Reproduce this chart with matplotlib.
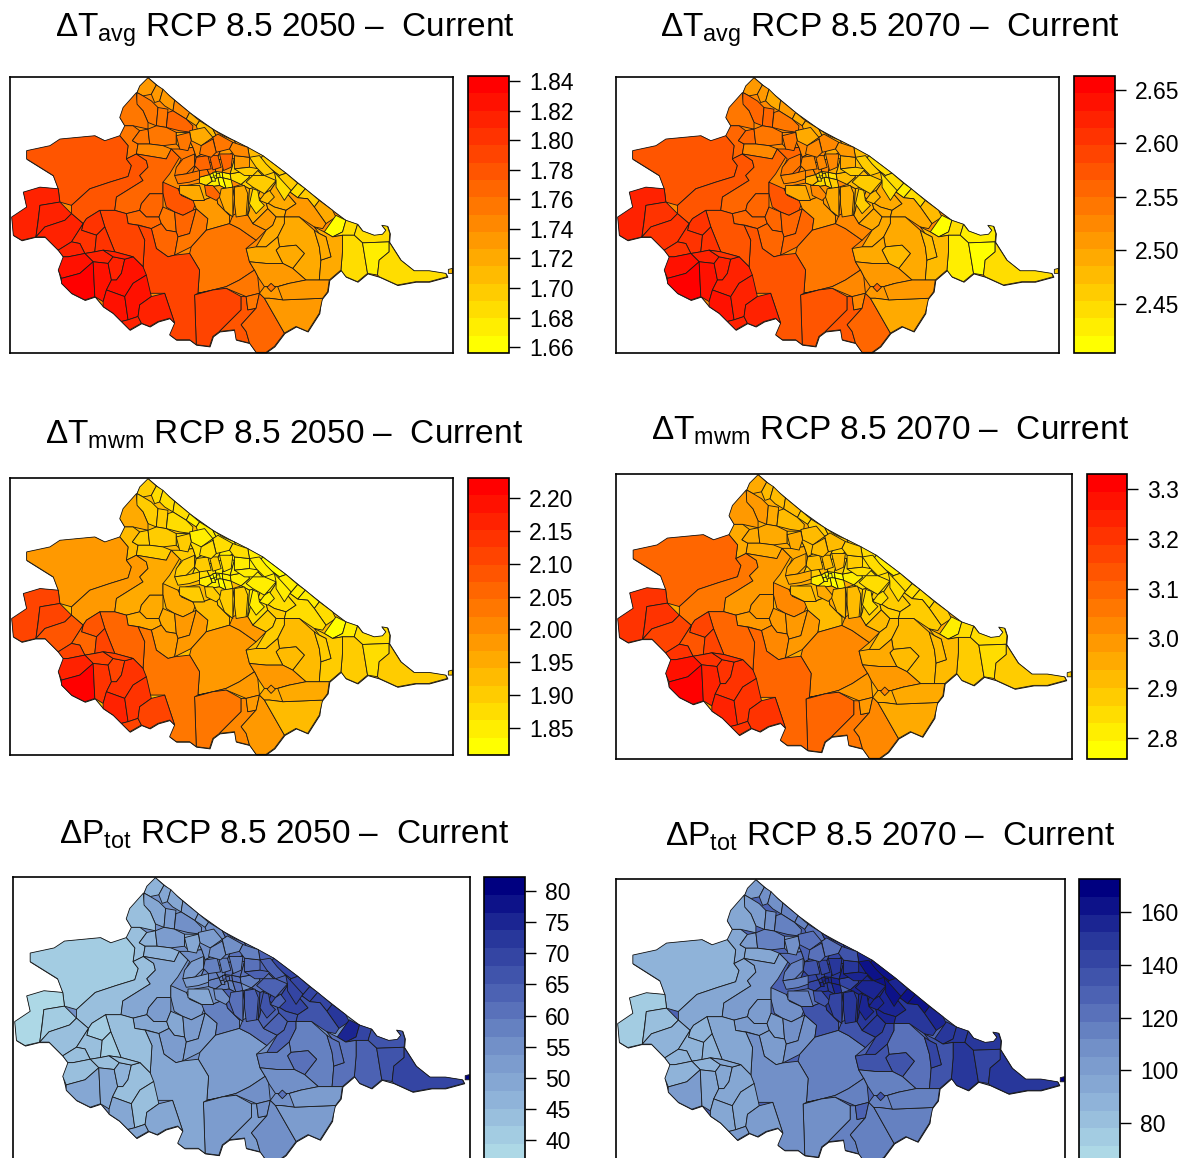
import matplotlib
matplotlib.use("Agg")
from matplotlib import pyplot as plt
from matplotlib.collections import PolyCollection
from matplotlib.colors import BoundaryNorm, LinearSegmentedColormap, ListedColormap
from matplotlib.cm import ScalarMappable
import numpy as np

plt.rcParams['font.family'] = ['Liberation Sans', 'DejaVu Sans']
plt.rcParams['mathtext.fontset'] = 'custom'
plt.rcParams['mathtext.rm'] = 'Liberation Sans'
plt.rcParams['mathtext.default'] = 'regular'

# Province outline, map coordinates
outline = [(445,50),(510,105),(570,155),(640,205),(705,240),(790,285),(860,338),(930,395),(1000,450),(1040,480),
           (1075,492),(1090,512),(1125,525),(1150,522),(1160,510),(1148,495),(1165,498),(1172,520),(1170,545),
           (1205,600),(1245,632),(1290,632),(1340,640),(1345,650),(1290,665),(1250,665),(1195,675),(1140,650),
           (1105,640),(1075,665),(1040,650),(1025,630),(990,660),(985,695),(965,720),(960,760),(925,815),(890,800),
           (855,820),(825,860),(800,878),(770,878),(750,850),(710,840),(705,810),(660,815),(640,830),(630,860),
           (590,855),(570,840),(530,840),(510,825),(525,790),(510,775),(475,785),(450,800),(425,790),(390,810),
           (340,760),(310,740),(285,710),(255,720),(215,700),(185,670),(175,630),(190,590),(175,570),(135,530),
           (105,530),(65,540),(40,525),(35,470),(80,440),(70,395),(120,380),(175,385),(160,345),(120,320),(80,295),
           (80,270),(150,255),(180,235),(285,225),(315,240),(360,225),(375,195),(360,170),(370,140),(410,95),(420,75)]

# Municipalities, grouped; the value lists below follow the same order
north = [
    [(445,50),(470,72),(455,100),(430,105),(412,95),(420,75)],
    [(470,72),(490,85),(480,120),(465,125),(455,100)],
    [(490,85),(510,105),(525,118),(520,150),(495,135),(480,120)],
    [(525,118),(570,155),(560,175),(520,150)],
    [(570,155),(600,180),(590,195),(560,175)],
    [(412,95),(430,105),(455,120),(475,140),(470,195),(445,185),(430,150),(410,130)],
    [(410,95),(412,130),(430,150),(445,185),(445,205),(400,195),(375,195),(360,170),(370,140)],
    [(475,140),(505,145),(500,200),(470,195)],
    [(505,155),(520,150),(560,175),(580,195),(578,215),(540,210),(500,200)],
    [(375,195),(400,195),(420,210),(398,240),(415,250),(410,280),(380,295),(385,255),(360,225)],
    [(420,210),(445,205),(450,250),(415,250),(398,240)],
    [(445,205),(470,195),(500,200),(530,215),(530,250),(490,255),(450,250)],
    [(415,250),(450,250),(490,255),(515,265),(500,295),(410,280)],
    [(530,215),(578,215),(570,240),(580,260),(545,265),(530,250)],
    [(590,195),(600,180),(640,205),(650,225),(620,240),(600,230),(595,210)],
]
west_large = [
    [(80,270),(150,255),(180,235),(285,225),(315,240),(360,225),(385,255),(380,295),(395,315),(385,348),(330,365),
     (270,385),(215,435),(180,425),(175,385),(160,345),(120,320),(80,295)],
    [(385,348),(395,315),(380,295),(410,280),(440,300),(445,320),(420,345),(430,360),(350,410),(345,450),(300,450),
     (260,475),(250,490),(215,460),(215,435),(270,385),(330,365)],
    [(410,280),(500,295),(515,265),(540,290),(510,340),(490,365),(490,400),(450,400),(425,430),(420,450),(380,460),
     (345,450),(350,410),(430,360),(420,345),(445,320),(440,300)],
]
west_edge = [
    [(35,470),(80,440),(70,395),(120,380),(175,385),(180,425),(120,435),(108,530),(65,540),(40,525)],
    [(120,435),(180,425),(215,460),(195,480),(135,500),(108,530),(115,480)],
    [(135,500),(195,480),(215,460),(250,490),(215,545),(175,570),(135,530),(108,530)],
]
centre = [
    [(630,342),(648,333),(655,350),(638,362)],
    [(648,333),(668,335),(670,352),(655,350)],
    [(668,335),(692,340),(695,358),(670,352)],
    [(655,350),(670,352),(680,385),(660,375)],
    [(670,352),(695,358),(700,380),(680,385)],
    [(600,350),(630,342),(638,362),(620,375),(600,368)],
    [(692,340),(745,330),(750,350),(725,372),(695,358)],
    [(638,362),(655,350),(660,375),(640,378),(620,375)],
]
centre_mid = [
    [(600,350),(630,342),(615,310),(585,320),(575,345)],
    [(630,342),(648,333),(650,300),(615,310)],
    [(648,333),(668,335),(680,290),(650,300)],
    [(668,335),(692,340),(705,295),(680,290)],
    [(692,340),(745,330),(735,290),(705,295)],
]
centre_outer = [
    [(515,265),(545,265),(580,260),(590,290),(585,320),(575,345),(550,335),(530,325),(545,295)],
    [(580,260),(570,240),(578,215),(595,210),(600,230),(620,240),(625,270),(590,290)],
    [(620,240),(650,225),(665,265),(650,300),(615,310),(590,290),(625,270)],
    [(650,225),(640,205),(670,225),(705,240),(715,265),(680,290),(650,300),(665,265)],
    [(705,240),(745,260),(750,290),(735,290),(705,295),(680,290),(715,265)],
    [(745,260),(790,285),(780,300),(770,325),(745,330),(735,290),(750,290)],
    [(790,285),(860,338),(840,345),(780,300)],
    [(780,300),(840,345),(830,365),(790,345),(770,325)],
    [(745,330),(770,325),(790,345),(785,375),(750,385),(725,372),(750,350)],
    [(790,345),(830,365),(810,395),(785,385),(785,375)],
]
coast = [
    [(840,345),(860,338),(895,368),(872,395),(830,365)],
    [(895,368),(918,385),(895,412),(872,395)],
    [(918,385),(960,420),(945,440),(925,415),(895,412)],
    [(960,420),(1000,450),(1010,470),(980,490),(945,440)],
    [(1010,465),(1040,480),(1030,515),(1000,530),(975,515)],
    [(1040,480),(1075,492),(1065,525),(1030,525),(1000,530),(1030,515)],
    [(1075,492),(1090,512),(1125,525),(1150,522),(1160,510),(1148,495),(1165,498),(1172,520),(1170,545),(1090,548),(1065,525)],
    [(1030,525),(1065,525),(1090,548),(1105,640),(1075,665),(1040,650),(1025,630),(1030,570)],
    [(1090,548),(1170,545),(1170,575),(1140,600),(1135,645),(1105,640)],
    [(1170,545),(1205,600),(1245,632),(1290,632),(1340,640),(1345,650),(1290,665),(1250,665),(1195,675),(1140,650),(1135,645),(1140,600),(1170,575)],
    [(1348,628),(1360,625),(1360,640),(1348,640)],
]
south_centre = [
    [(535,385),(560,375),(600,368),(620,375),(640,378),(650,405),(610,420),(580,420),(545,405)],
    [(490,365),(535,385),(545,405),(590,425),(580,450),(550,465),(525,455),(500,440),(490,400)],
    [(425,430),(450,400),(490,400),(490,440),(478,470),(440,470),(420,450)],
    [(380,460),(420,450),(440,470),(478,470),(485,490),(455,505),(420,495),(385,490)],
    [(478,470),(490,440),(525,455),(530,515),(500,510),(485,490)],
    [(525,455),(550,465),(580,450),(590,445),(570,520),(535,530),(530,515)],
    [(455,505),(485,490),(500,510),(530,515),(535,530),(525,585),(505,590),(470,565)],
    [(535,530),(570,520),(590,445),(625,475),(620,510),(575,560),(525,585)],
    [(580,420),(610,420),(650,405),(655,430),(690,465),(690,490),(620,510),(625,475),(590,445)],
]
middle = [
    [(620,510),(690,490),(720,505),(770,540),(740,565),(750,605),(765,630),(720,660),(680,680),(640,690),(595,700),
     (600,630),(570,580),(575,560)],
    [(640,378),(660,375),(680,385),(700,380),(705,410),(700,465),(690,465),(655,430),(650,405)],
    [(700,380),(725,372),(750,385),(745,465),(710,460),(705,410)],
    [(750,385),(785,375),(785,385),(775,410),(755,420),(750,450),(745,465)],
    [(785,385),(810,395),(830,365),(860,395),(890,430),(860,450),(825,440),(800,425),(775,410)],
    [(755,420),(775,410),(800,425),(805,445),(760,490),(745,465),(750,450)],
    [(825,440),(860,450),(855,470),(830,470),(805,445),(800,425)],
    [(860,395),(872,395),(895,412),(925,415),(945,440),(980,490),(970,505),(945,500),(900,470),(855,470),(860,450),(890,430)],
    [(700,465),(710,460),(745,465),(760,490),(800,510),(770,540),(720,505),(690,490)],
    [(760,490),(805,445),(830,470),(820,495),(800,510)],
    [(830,470),(855,470),(855,490),(835,530),(800,560),(770,560),(800,510),(820,495)],
]
east_inland = [
    [(855,470),(900,470),(945,510),(960,560),(965,600),(960,660),(920,660),(880,625),(915,580),(890,555),(840,560),(835,530),(855,490)],
    [(840,560),(890,555),(915,580),(880,625),(850,610),(830,570)],
    [(740,565),(770,560),(800,560),(835,530),(840,560),(830,570),(850,610),(800,610),(750,605)],
    [(945,500),(975,515),(1000,530),(1030,525),(1030,570),(1025,630),(990,660),(960,660),(965,600),(995,590),(980,530),(960,520)],
    [(945,510),(960,520),(980,530),(995,590),(965,600),(960,560)],
    [(750,605),(800,610),(850,610),(880,625),(920,660),(870,670),(835,680),(795,680),(775,650),(765,630)],
]
south_large = [
    [(595,700),(640,690),(680,680),(720,660),(765,630),(775,650),(780,700),(740,710),(680,685)],
    [(585,705),(640,690),(680,685),(725,710),(725,750),(690,785),(660,815),(640,830),(630,860),(590,855)],
    [(415,495),(455,505),(470,565),(505,590),(525,585),(570,580),(600,630),(595,700),(585,705),(590,855),(570,840),
     (530,840),(510,825),(525,790),(495,700),(450,700),(430,620),(435,540)],
    [(345,450),(380,460),(385,490),(415,495),(435,540),(430,620),(400,590),(345,575),(315,500),(300,450)],
]
red_cluster = [
    [(250,490),(260,475),(300,450),(315,500),(290,525),(245,510)],
    [(215,545),(250,490),(245,510),(290,525),(285,575),(255,580),(240,550)],
    [(175,570),(215,545),(240,550),(255,580),(205,590),(190,590)],
    [(290,525),(315,500),(345,575),(310,570),(285,575)],
    [(255,580),(285,575),(310,570),(340,590),(325,610),(280,605)],
    [(190,590),(205,590),(255,580),(280,605),(240,640),(185,655),(175,630)],
    [(185,655),(240,640),(280,605),(285,710),(255,720),(215,700),(185,670)],
    [(280,605),(325,610),(335,660),(320,690),(310,725),(285,710)],
    [(325,610),(340,590),(375,597),(365,640),(350,660),(335,660)],
    [(375,597),(400,590),(430,620),(440,645),(400,670),(375,710),(320,690),(335,660),(350,660),(365,640)],
    [(320,690),(375,710),(385,780),(365,785),(340,760),(310,740),(310,725)],
    [(375,710),(400,670),(440,645),(455,710),(420,735),(415,770),(385,780)],
    [(385,780),(415,770),(425,790),(390,810),(365,785)],
    [(420,735),(455,710),(495,700),(525,790),(510,775),(475,785),(450,800),(425,790),(415,770)],
]
south_tip = [
    [(725,710),(740,710),(745,750),(770,745),(725,795),(740,815),(750,850),(710,840),(705,810),(660,815),(690,785),(725,750)],
    [(740,710),(780,700),(770,745),(745,750)],
    [(725,795),(770,745),(780,700),(795,715),(855,820),(825,860),(800,878),(770,878),(750,850),(740,815)],
    [(780,700),(795,680),(835,680),(870,670),(850,720),(810,715),(795,715)],
    [(795,715),(810,715),(850,720),(970,715),(960,760),(925,815),(890,800),(855,820)],
    [(835,680),(870,670),(920,660),(960,660),(990,660),(985,695),(970,715),(850,720)],
    [(803,682),(815,670),(828,682),(815,695)],
]
# Finer cells of the fan round the city, drawn over the groups above
fan_detail = [
    [(310,570),(345,575),(400,590),(375,597),(340,590)],
    [(590,290),(625,285),(635,325),(600,330),(585,315)],
    [(630,285),(655,285),(665,320),(640,328)],
    [(660,280),(700,280),(695,320),(672,330)],
    [(705,285),(750,290),(750,320),(705,325)],
    [(705,325),(750,320),(780,325),(760,345),(735,345)],
    [(750,290),(780,285),(800,310),(825,335),(795,345),(770,320)],
    [(795,345),(830,360),(795,400),(760,380),(740,365),(760,345)],
    [(825,335),(875,390),(855,420),(830,380),(830,360)],
    [(795,400),(810,390),(825,410),(805,430),(780,420)],
    [(760,385),(775,390),(780,420),(795,435),(770,460),(750,430)],
    [(550,295),(585,280),(585,315),(560,340),(525,345),(530,320)],
    [(525,345),(560,340),(600,330),(600,355),(570,365),(535,370)],
    [(570,210),(615,200),(640,230),(605,255),(575,240)],
    [(530,225),(570,215),(575,240),(565,270),(540,265)],
    [(640,230),(655,220),(700,245),(690,265),(650,275)],
    [(605,255),(640,235),(650,275),(635,290),(600,280)],
    [(700,245),(745,260),(750,290),(705,285),(690,265)],
    [(540,375),(600,375),(615,420),(580,420),(540,400)],
    [(615,375),(640,375),(665,405),(650,420),(620,405)],
    [(665,385),(700,380),(700,420),(700,470),(675,450),(660,410)],
    [(705,380),(735,375),(745,400),(740,465),(710,470),(705,430)],
    [(640,335),(650,335),(652,345),(642,347)],
    [(650,340),(660,338),(662,350),(652,352)],
    [(635,350),(645,350),(648,362),(638,362)],
]
regions = (north + west_large + west_edge + centre + centre_mid + centre_outer + coast + south_centre
           + middle + east_inland + south_large + red_cluster + south_tip + fan_detail)

# Values per municipality, one line per group above
tavg_2050 = [1.73,1.73,1.73,1.74,1.72,1.76,1.75,1.76,1.77,1.75,1.75,1.75,1.74,1.72,1.71,
             1.775,1.775,1.765,
             1.815,1.81,1.81,
             1.66,1.66,1.67,1.66,1.67,1.68,1.68,1.67,
             1.75,1.76,1.74,1.73,1.70,
             1.75,1.74,1.75,1.73,1.73,1.71,1.695,1.70,1.70,1.71,
             1.695,1.685,1.70,1.72,1.66,1.685,1.68,1.685,1.675,1.69,1.71,
             1.72,1.775,1.77,1.765,1.76,1.77,1.765,1.76,1.73,
             1.755,1.73,1.72,1.71,1.72,1.715,1.72,1.73,1.745,1.73,1.725,
             1.72,1.715,1.725,1.72,1.715,1.735,
             1.75,1.785,1.785,1.79,
             1.805,1.80,1.81,1.805,1.81,1.825,1.84,1.825,1.81,1.82,1.825,1.82,1.815,1.815,
             1.78,1.75,1.765,1.735,1.73,1.735,1.76,
             1.81,1.77,1.77,1.765,1.73,1.70,1.70,1.70,1.685,1.71,1.69,1.76,1.76,1.72,1.75,1.75,1.75,1.745,1.72,1.77,1.72,1.72,1.66,1.67,1.66]
tavg_2070 = [2.51,2.51,2.50,2.51,2.49,2.55,2.54,2.55,2.54,2.55,2.55,2.54,2.53,2.52,2.49,
             2.575,2.57,2.56,
             2.62,2.61,2.61,
             2.44,2.44,2.45,2.44,2.46,2.47,2.47,2.45,
             2.52,2.53,2.52,2.50,2.47,
             2.55,2.52,2.53,2.50,2.49,2.47,2.44,2.47,2.47,2.48,
             2.44,2.43,2.45,2.47,2.42,2.44,2.43,2.43,2.42,2.44,2.46,
             2.51,2.57,2.56,2.56,2.55,2.56,2.56,2.55,2.51,
             2.54,2.51,2.49,2.48,2.49,2.49,2.49,2.50,2.53,2.50,2.50,
             2.49,2.48,2.50,2.48,2.48,2.51,
             2.53,2.58,2.57,2.58,
             2.60,2.60,2.61,2.60,2.62,2.64,2.66,2.64,2.62,2.63,2.64,2.63,2.62,2.62,
             2.57,2.53,2.55,2.51,2.50,2.51,2.55,
             2.61,2.53,2.53,2.52,2.49,2.46,2.46,2.46,2.44,2.47,2.46,2.54,2.53,2.50,2.54,2.52,2.52,2.51,2.49,2.53,2.49,2.49,2.44,2.44,2.45]
tmwm_2050 = [1.90,1.88,1.87,1.88,1.85,1.90,1.95,1.90,1.88,1.92,1.90,1.89,1.90,1.87,1.85,
             1.99,1.97,1.95,
             2.12,2.10,2.08,
             1.83,1.83,1.84,1.83,1.84,1.85,1.85,1.84,
             1.88,1.88,1.86,1.85,1.84,
             1.89,1.87,1.87,1.86,1.85,1.85,1.83,1.84,1.84,1.85,
             1.84,1.84,1.85,1.87,1.82,1.85,1.88,1.90,1.88,1.90,1.91,
             1.92,1.95,1.96,1.96,1.95,1.97,1.97,1.97,1.92,
             1.99,1.90,1.88,1.86,1.88,1.87,1.89,1.88,1.97,1.90,1.90,
             1.92,1.93,1.94,1.90,1.90,1.97,
             1.98,2.03,2.03,2.05,
             2.08,2.07,2.10,2.10,2.12,2.17,2.22,2.15,2.12,2.13,2.17,2.13,2.10,2.10,
             2.00,1.97,1.99,1.95,1.94,1.95,1.98,
             2.10,1.89,1.89,1.88,1.86,1.85,1.85,1.85,1.84,1.86,1.86,1.91,1.90,1.86,1.90,1.88,1.88,1.87,1.89,1.90,1.89,1.89,1.83,1.84,1.83]
tmwm_2070 = [2.95,2.93,2.92,2.93,2.89,2.98,3.00,2.97,2.93,2.97,2.97,2.95,2.95,2.92,2.88,
             3.08,3.05,3.00,
             3.22,3.20,3.18,
             2.78,2.78,2.79,2.78,2.80,2.81,2.81,2.80,
             2.90,2.92,2.88,2.87,2.84,
             2.95,2.91,2.92,2.88,2.87,2.85,2.81,2.84,2.84,2.85,
             2.83,2.83,2.85,2.88,2.80,2.85,2.86,2.87,2.84,2.88,2.90,
             2.92,3.02,3.00,3.00,2.98,3.00,3.01,3.00,2.93,
             3.03,2.94,2.90,2.87,2.90,2.88,2.90,2.90,3.00,2.92,2.92,
             2.93,2.92,2.95,2.92,2.91,2.98,
             3.00,3.08,3.09,3.10,
             3.17,3.15,3.19,3.18,3.22,3.26,3.31,3.24,3.20,3.22,3.25,3.22,3.19,3.19,
             3.05,2.99,3.02,2.96,2.95,2.96,3.01,
             3.19,2.93,2.93,2.92,2.88,2.85,2.85,2.85,2.83,2.86,2.85,2.96,2.95,2.91,2.95,2.92,2.92,2.90,2.91,2.94,2.91,2.91,2.78,2.79,2.78]
ptot_2050 = [47,48,50,52,52,48,44,51,54,44,47,51,46,50,56,
             41,43,48,
             38,41,44,
             59,60,60,59,60,57,58,59,
             58,58,60,60,61,
             54,55,57,60,62,65,68,64,62,66,
             68,70,70,72,74,70,66,64,66,68,80,
             55,52,51,50,49,52,51,52,58,
             52,64,66,66,68,65,67,66,62,64,63,
             59,60,58,60,62,54,
             54,51,49,43,
             42,43,44,42,44,45,49,48,46,45,48,44,49,48,
             52,56,54,54,53,53,60,
             45,57,58,59,62,63,65,65,68,65,66,52,52,53,50,55,54,58,50,56,62,64,60,60,59]
ptot_2070 = [103,105,108,112,114,100,92,110,118,92,100,112,98,110,124,
             88,92,104,
             75,82,88,
             150,155,155,150,155,140,145,150,
             140,142,148,152,155,
             120,128,132,140,148,155,160,160,155,155,
             158,160,160,158,150,152,148,150,145,150,170,
             125,108,104,102,104,108,104,110,135,
             112,148,152,155,155,150,155,152,135,148,145,
             125,138,135,135,140,112,
             115,108,105,95,
             88,90,90,88,90,90,102,96,92,94,98,96,100,102,
             112,130,118,118,118,118,135,
             92,138,142,148,152,158,160,158,160,155,155,112,115,120,108,125,122,138,118,132,145,150,155,155,155]

# Colour bar ranges and ticks of each panel
tavg_2050_range = (1.656, 1.8434)
tavg_2070_range = (2.404, 2.663)
tmwm_2050_range = (1.809, 2.2304)
tmwm_2070_range = (2.758, 3.33)
ptot_2050_range = (36.5, 82.25)
ptot_2070_range = (64.5, 172.5)
tavg_2050_ticks = [1.66, 1.68, 1.70, 1.72, 1.74, 1.76, 1.78, 1.80, 1.82, 1.84]
tavg_2070_ticks = [2.45, 2.50, 2.55, 2.60, 2.65]
tmwm_2050_ticks = [1.85, 1.90, 1.95, 2.00, 2.05, 2.10, 2.15, 2.20]
tmwm_2070_ticks = [2.8, 2.9, 3.0, 3.1, 3.2, 3.3]
ptot_2050_ticks = [40, 45, 50, 55, 60, 65, 70, 75, 80]
ptot_2070_ticks = [80, 100, 120, 140, 160]

W, H = 1186, 1158
heat = LinearSegmentedColormap.from_list("heat", ["#FFFF00", "#FF8000", "#FF0000"])
blues = LinearSegmentedColormap.from_list(
    "blues", [(0, "#ADD8E6"), (0.2, "#8FB3D9"), (0.4, "#7290C8"), (0.6, "#4C62B3"), (0.8, "#28379B"), (1, "#000080")])


def px_axes(fig, left, top, right, bottom):
    """Axes from pixel edges, y counted from the top of the picture"""
    return fig.add_axes([left / W, 1 - bottom / H, (right - left) / W, (bottom - top) / H])


def draw_panel(fig, title, title_xy, box, cbar_box, values, vrange, ticks, fmt, ramp):
    """One map with its stepped colour bar"""
    cmap = ListedColormap(ramp(np.linspace(0, 1, 16)))
    norm = BoundaryNorm(np.linspace(vrange[0], vrange[1], 17), 16)

    ax = px_axes(fig, *box)
    base = PolyCollection([outline], array=[np.mean(values)], cmap=cmap, norm=norm, edgecolors="#111111", linewidths=0.7)
    ax.add_collection(base)
    polys = PolyCollection(regions, array=values, cmap=cmap, norm=norm, edgecolors="#1a1a1a", linewidths=0.6)
    ax.add_collection(polys)
    ax.set_xlim(30, 1362)
    ax.set_ylim(880, 48)
    ax.set_xticks([])
    ax.set_yticks([])
    for spine in ax.spines.values():
        spine.set_linewidth(1.2)

    cax = px_axes(fig, *cbar_box)
    cb = fig.colorbar(ScalarMappable(norm=norm, cmap=cmap), cax=cax, spacing="proportional")
    cb.set_ticks(ticks, labels=[fmt % t for t in ticks])
    cb.ax.tick_params(length=8, width=1, labelsize=16.5, pad=6.5)
    cb.ax.minorticks_off()
    cb.outline.set_linewidth(1.2)

    fig.text(title_xy[0] / W, 1 - title_xy[1] / H, title, fontsize=24, ha="center", va="center")


fig = plt.figure(figsize=(W / 100, H / 100), dpi=100)

draw_panel(fig, r"$\Delta$T$_{avg}$ RCP 8.5 2050 –  Current", (285, 30), (10, 77, 453, 353), (468, 76, 509, 353),
           tavg_2050, tavg_2050_range, tavg_2050_ticks, "%.2f", heat)
draw_panel(fig, r"$\Delta$T$_{avg}$ RCP 8.5 2070 –  Current", (890, 30), (616, 77, 1059, 353), (1074, 76, 1115, 353),
           tavg_2070, tavg_2070_range, tavg_2070_ticks, "%.2f", heat)
draw_panel(fig, r"$\Delta$T$_{mwm}$ RCP 8.5 2050 –  Current", (284, 435), (10, 478, 453, 755), (468, 478, 509, 755),
           tmwm_2050, tmwm_2050_range, tmwm_2050_ticks, "%.2f", heat)
draw_panel(fig, r"$\Delta$T$_{mwm}$ RCP 8.5 2070 –  Current", (890, 431), (616, 474, 1072, 759), (1087, 474, 1127, 759),
           tmwm_2070, tmwm_2070_range, tmwm_2070_ticks, "%.1f", heat)
draw_panel(fig, r"$\Delta$P$_{tot}$ RCP 8.5 2050 –  Current", (284, 835), (13, 877, 470, 1162), (484, 877, 525, 1162),
           ptot_2050, ptot_2050_range, ptot_2050_ticks, "%d", blues)
draw_panel(fig, r"$\Delta$P$_{tot}$ RCP 8.5 2070 –  Current", (890, 837), (616, 879, 1065, 1164), (1079, 879, 1120, 1164),
           ptot_2070, ptot_2070_range, ptot_2070_ticks, "%d", blues)

fig.savefig("out.png", dpi=100)
